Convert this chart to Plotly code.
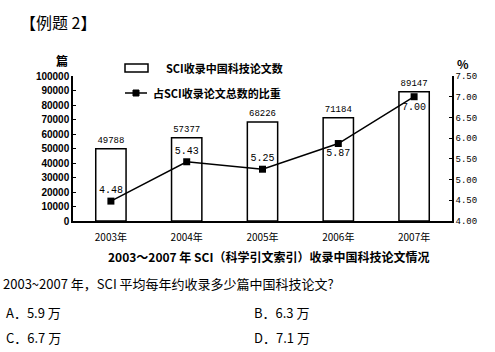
import plotly.graph_objects as go

years = ["2003年", "2004年", "2005年", "2006年", "2007年"]
papers = [49788, 57377, 68226, 71184, 89147]
share = [4.48, 5.43, 5.25, 5.87, 7.00]
share_text_pos = ["top center", "top center", "top center", "bottom center", "bottom center"]
left_ticks = list(range(0, 100001, 10000))
right_ticks = [4.0, 4.5, 5.0, 5.5, 6.0, 6.5, 7.0, 7.5]

W, H = 495, 352
L, R, T, B = 73, 452, 76, 221


def px(x):
    return (x - L) / (R - L)


def py(y):
    return (B - y) / (B - T)


CJK = "Noto Sans CJK SC"
MONO = "Liberation Mono"

fig = go.Figure()
fig.add_trace(go.Bar(
    x=years, y=papers, width=0.4,
    marker=dict(color="white", line=dict(color="black", width=1.5)),
    text=[str(v) for v in papers], textposition="outside",
    textfont=dict(family=MONO, size=9, color="black"),
    cliponaxis=False, showlegend=False,
))
fig.add_trace(go.Scatter(
    x=years, y=share, yaxis="y2", mode="lines+markers+text",
    line=dict(color="black", width=1.5),
    marker=dict(symbol="square", size=7, color="black"),
    text=[f"{v:.2f}" for v in share], textposition=share_text_pos,
    textfont=dict(family=MONO, size=10, color="black"),
    cliponaxis=False, showlegend=False,
))

fig.update_layout(
    width=W, height=H,
    margin=dict(l=L, r=W - R, t=T, b=H - B),
    paper_bgcolor="white", plot_bgcolor="white",
    showlegend=False,
    xaxis=dict(
        type="category", range=[-0.5, 4.5],
        showline=True, linecolor="black", linewidth=1.5,
        showgrid=False, ticks="", ticklabelstandoff=6,
        tickfont=dict(family=CJK, size=10, color="black"),
    ),
    yaxis=dict(
        range=[0, 100000], tickvals=left_ticks, tickformat="d",
        showline=True, linecolor="black", linewidth=1.5,
        showgrid=False, zeroline=False,
        ticks="inside", ticklen=3, tickcolor="black",
        tickfont=dict(family="Liberation Sans", size=10, color="black", weight="bold"),
    ),
    yaxis2=dict(
        range=[4.0, 7.5], tickvals=right_ticks, tickformat=".2f",
        overlaying="y", side="right",
        showline=True, linecolor="black", linewidth=1.5,
        showgrid=False, zeroline=False,
        ticks="inside", ticklen=3, tickcolor="black",
        tickfont=dict(family=MONO, size=9, color="black"),
    ),
)

shapes = [
    # legend: bar icon
    dict(type="rect", xref="paper", yref="paper",
         x0=px(125), x1=px(148), y0=py(72), y1=py(64),
         line=dict(color="black", width=1.5), fillcolor="white"),
    # legend: line icon
    dict(type="line", xref="paper", yref="paper",
         x0=px(125), x1=px(147), y0=py(93), y1=py(93),
         line=dict(color="black", width=1.5)),
    dict(type="rect", xref="paper", yref="paper",
         x0=px(133), x1=px(139), y0=py(96), y1=py(90),
         line=dict(color="black", width=1), fillcolor="black"),
]
fig.update_layout(shapes=shapes)


def ann(text, x, y, size, family=CJK, bold=False, xanchor="left"):
    fig.add_annotation(
        text=text, xref="paper", yref="paper", x=px(x), y=py(y),
        xanchor=xanchor, yanchor="middle", showarrow=False,
        font=dict(family=family, size=size, color="black", weight="bold" if bold else "normal"),
    )


ann("【例题 2】", 18, 22, 16)
ann("SCI收录中国科技论文数", 164, 68, 11, bold=True)
ann("占SCI收录论文总数的比重", 151, 93, 11, bold=True)
ann("篇", 62, 60, 12, bold=True, xanchor="center")
ann("%", 463, 63, 12, bold=True, xanchor="center")
ann("2003～2007 年 SCI（科学引文索引）收录中国科技论文情况", 268, 256, 12, bold=True, xanchor="center")
ann("2003~2007 年，SCI 平均每年约收录多少篇中国科技论文?", 1, 283, 13)
ann("A．5.9 万", 4, 312, 13)
ann("B．6.3 万", 252, 312, 13)
ann("C．6.7 万", 4, 337, 13)
ann("D．7.1 万", 252, 337, 13)

fig.write_html("out.html")
